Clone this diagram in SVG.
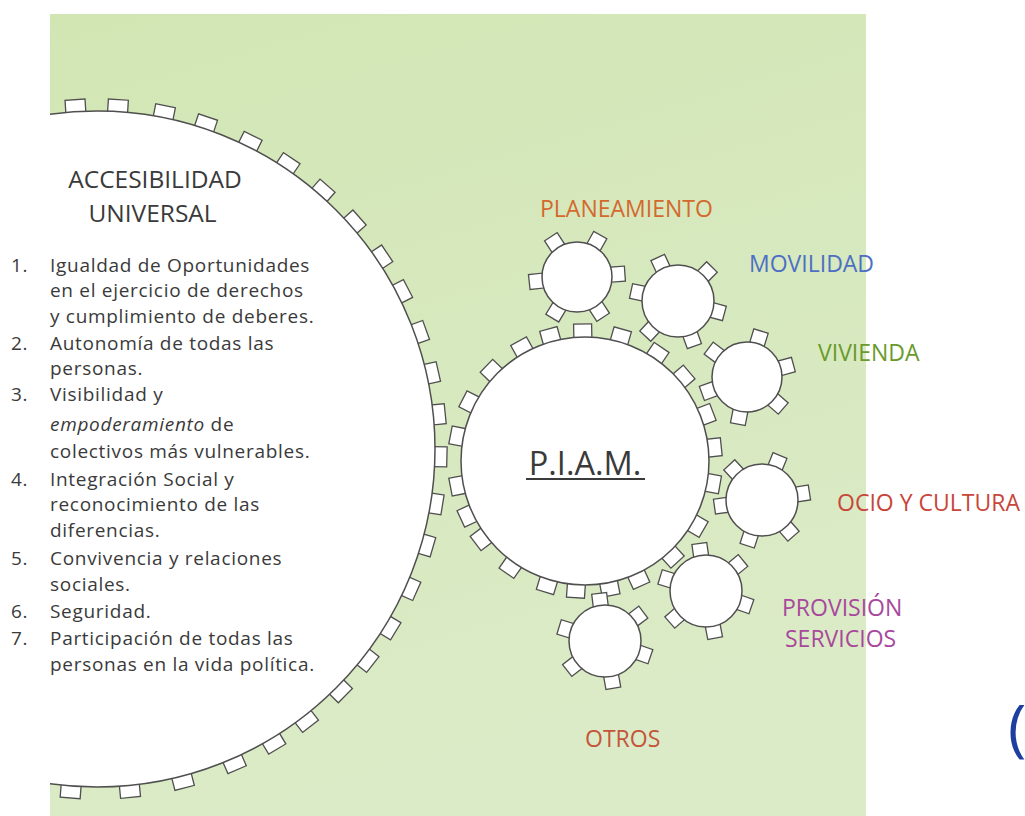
<svg xmlns="http://www.w3.org/2000/svg" xmlns:xlink="http://www.w3.org/1999/xlink" width="1025" height="816" viewBox="0 0 1025 816">
<defs>
<linearGradient id="bg" x1="0" y1="0" x2="0.3" y2="1">
<stop offset="0" stop-color="#d2e6b4"/>
<stop offset="1" stop-color="#dbebc7"/>
</linearGradient>
<clipPath id="clipL"><rect x="50" y="0" width="816" height="816"/></clipPath>
<rect id="tB" x="335" y="-10" width="15" height="20"/>
<rect id="tP" x="122" y="-9" width="15" height="18"/>
<rect id="tS" x="34" y="-7.5" width="14" height="15"/>
</defs>
<style>
.tooth{fill:#fff;stroke:#4f4f4f;stroke-width:1.3}
.disc{fill:#fff;stroke:#4f4f4f;stroke-width:1.5}
.txt{font-family:"Open Sans","Liberation Sans",sans-serif;fill:#3a3a3a}
.lbl{font-family:"Open Sans","Liberation Sans",sans-serif;font-size:23px}
</style>
<rect x="0" y="0" width="1025" height="816" fill="#ffffff"/>
<rect x="50" y="14" width="816" height="802" fill="url(#bg)"/>

<g id="accesibilidad" clip-path="url(#clipL)">
<g transform="translate(97,449)" class="tooth">
<use xlink:href="#tB" transform="rotate(-93.6)"/><use xlink:href="#tB" transform="rotate(-86.5)"/>
<use xlink:href="#tB" transform="rotate(-78.7)"/><use xlink:href="#tB" transform="rotate(-71.5)"/>
<use xlink:href="#tB" transform="rotate(-63.5)"/><use xlink:href="#tB" transform="rotate(-56.2)"/>
<use xlink:href="#tB" transform="rotate(-48.8)"/><use xlink:href="#tB" transform="rotate(-41.4)"/>
<use xlink:href="#tB" transform="rotate(-34)"/><use xlink:href="#tB" transform="rotate(-27.3)"/>
<use xlink:href="#tB" transform="rotate(-19.9)"/><use xlink:href="#tB" transform="rotate(-12.8)"/>
<use xlink:href="#tB" transform="rotate(-5.8)"/><use xlink:href="#tB" transform="rotate(1.3)"/>
<use xlink:href="#tB" transform="rotate(9.2)"/><use xlink:href="#tB" transform="rotate(16.3)"/>
<use xlink:href="#tB" transform="rotate(24)"/><use xlink:href="#tB" transform="rotate(31.4)"/>
<use xlink:href="#tB" transform="rotate(38)"/><use xlink:href="#tB" transform="rotate(44.8)"/>
<use xlink:href="#tB" transform="rotate(52.4)"/><use xlink:href="#tB" transform="rotate(59)"/>
<use xlink:href="#tB" transform="rotate(66.4)"/><use xlink:href="#tB" transform="rotate(75.5)"/>
<use xlink:href="#tB" transform="rotate(84.5)"/><use xlink:href="#tB" transform="rotate(94.4)"/>
</g>
<circle class="disc" cx="97" cy="449" r="338"/>
</g>
<g id="accesibilidad-text" class="txt">
<text x="155" y="188" font-size="24.5" text-anchor="middle">ACCESIBILIDAD</text>
<text x="152.5" y="222" font-size="24.5" text-anchor="middle">UNIVERSAL</text>
<g font-size="19" letter-spacing="0.7">
<text x="11" y="272">1.</text><text x="50" y="272">Igualdad de Oportunidades</text>
<text x="50" y="297">en el ejercicio de derechos</text>
<text x="50" y="323">y cumplimiento de deberes.</text>
<text x="11" y="350">2.</text><text x="50" y="350">Autonomía de todas las</text>
<text x="50" y="375">personas.</text>
<text x="11" y="401">3.</text><text x="50" y="401">Visibilidad y</text>
<text x="50" y="431"><tspan font-style="italic">empoderamiento</tspan> de</text>
<text x="50" y="458">colectivos más vulnerables.</text>
<text x="11" y="486">4.</text><text x="50" y="486">Integración Social y</text>
<text x="50" y="511">reconocimiento de las</text>
<text x="50" y="537">diferencias.</text>
<text x="11" y="565">5.</text><text x="50" y="565">Convivencia y relaciones</text>
<text x="50" y="591">sociales.</text>
<text x="11" y="618">6.</text><text x="50" y="618">Seguridad.</text>
<text x="11" y="645">7.</text><text x="50" y="645">Participación de todas las</text>
<text x="50" y="671">personas en la vida política.</text>
</g>
</g>

<g id="piam">
<g transform="translate(585,461)" class="tooth">
<use xlink:href="#tP" transform="rotate(-91)"/><use xlink:href="#tP" transform="rotate(-74)"/>
<use xlink:href="#tP" transform="rotate(-56)"/><use xlink:href="#tP" transform="rotate(-40.5)"/>
<use xlink:href="#tP" transform="rotate(-21)"/><use xlink:href="#tP" transform="rotate(-6)"/>
<use xlink:href="#tP" transform="rotate(10)"/><use xlink:href="#tP" transform="rotate(30)"/>
<use xlink:href="#tP" transform="rotate(47.5)"/><use xlink:href="#tP" transform="rotate(65.6)"/>
<use xlink:href="#tP" transform="rotate(79)"/><use xlink:href="#tP" transform="rotate(94)"/>
<use xlink:href="#tP" transform="rotate(107)"/><use xlink:href="#tP" transform="rotate(125)"/>
<use xlink:href="#tP" transform="rotate(143)"/><use xlink:href="#tP" transform="rotate(155)"/>
<use xlink:href="#tP" transform="rotate(169)"/><use xlink:href="#tP" transform="rotate(191)"/>
<use xlink:href="#tP" transform="rotate(207)"/><use xlink:href="#tP" transform="rotate(224)"/>
<use xlink:href="#tP" transform="rotate(241)"/><use xlink:href="#tP" transform="rotate(254.5)"/>
</g>
<circle class="disc" cx="585" cy="461" r="124"/>
<text class="txt" x="585" y="475" font-size="32.5" text-anchor="middle">P.I.A.M.</text>
<rect x="526" y="478" width="119" height="2" fill="#3a3a3a"/>
</g>

<g id="planeamiento">
<g transform="translate(577,277)" class="tooth">
<use xlink:href="#tS" transform="rotate(-4)"/><use xlink:href="#tS" transform="rotate(57)"/>
<use xlink:href="#tS" transform="rotate(121)"/><use xlink:href="#tS" transform="rotate(174)"/>
<use xlink:href="#tS" transform="rotate(237)"/><use xlink:href="#tS" transform="rotate(299)"/>
</g>
<circle class="disc" cx="577" cy="277" r="35"/>
<text class="lbl" x="540" y="217" fill="#d4692e">PLANEAMIENTO</text>
</g>

<g id="movilidad">
<g transform="translate(678,301)" class="tooth">
<use xlink:href="#tS" transform="rotate(-115)"/><use xlink:href="#tS" transform="rotate(-45)"/>
<use xlink:href="#tS" transform="rotate(15)"/><use xlink:href="#tS" transform="rotate(70)"/>
<use xlink:href="#tS" transform="rotate(133)"/><use xlink:href="#tS" transform="rotate(192)"/>
</g>
<circle class="disc" cx="678" cy="301" r="36"/>
<text class="lbl" x="749" y="272" fill="#4d6fc4">MOVILIDAD</text>
</g>

<g id="vivienda">
<g transform="translate(747,377)" class="tooth">
<use xlink:href="#tS" transform="rotate(-73)"/><use xlink:href="#tS" transform="rotate(-15)"/>
<use xlink:href="#tS" transform="rotate(41)"/><use xlink:href="#tS" transform="rotate(101)"/>
<use xlink:href="#tS" transform="rotate(160)"/><use xlink:href="#tS" transform="rotate(217)"/>
</g>
<circle class="disc" cx="747" cy="377" r="35"/>
<text class="lbl" x="818" y="361" fill="#6a9a2c">VIVIENDA</text>
</g>

<g id="ocio">
<g transform="translate(762,500)" class="tooth">
<use xlink:href="#tS" transform="rotate(-133)"/><use xlink:href="#tS" transform="rotate(-68)"/>
<use xlink:href="#tS" transform="rotate(-9)"/><use xlink:href="#tS" transform="rotate(49)"/>
<use xlink:href="#tS" transform="rotate(108)"/><use xlink:href="#tS" transform="rotate(172)"/>
</g>
<circle class="disc" cx="762" cy="500" r="36"/>
<text class="lbl" x="837" y="511" fill="#c8463a">OCIO Y CULTURA</text>
</g>

<g id="provision">
<g transform="translate(706,591)" class="tooth">
<use xlink:href="#tS" transform="rotate(-98)"/><use xlink:href="#tS" transform="rotate(-39.5)"/>
<use xlink:href="#tS" transform="rotate(19)"/><use xlink:href="#tS" transform="rotate(79)"/>
<use xlink:href="#tS" transform="rotate(139)"/><use xlink:href="#tS" transform="rotate(197)"/>
</g>
<circle class="disc" cx="706" cy="591" r="36"/>
<text class="lbl" x="782" y="616" fill="#a8489c">PROVISIÓN</text>
<text class="lbl" x="785" y="647" fill="#a8489c">SERVICIOS</text>
</g>

<g id="otros">
<g transform="translate(605,641)" class="tooth">
<use xlink:href="#tS" transform="rotate(-97)"/><use xlink:href="#tS" transform="rotate(-37)"/>
<use xlink:href="#tS" transform="rotate(19)"/><use xlink:href="#tS" transform="rotate(80)"/>
<use xlink:href="#tS" transform="rotate(142)"/><use xlink:href="#tS" transform="rotate(197)"/>
</g>
<circle class="disc" cx="605" cy="641" r="36"/>
<text class="lbl" x="585" y="747" fill="#c4553a">OTROS</text>
</g>

<text x="1008" y="750" font-family="Open Sans, Liberation Sans, sans-serif" font-size="62" fill="#1f3f9f">(</text>
</svg>
